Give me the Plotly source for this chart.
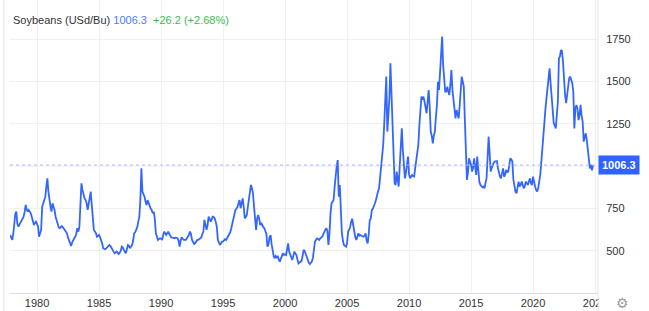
import plotly.graph_objects as go
import pandas as pd

title_text = "Soybeans (USd/Bu)"
last_value = 1006.3
change_text = "+26.2 (+2.68%)"
start_month = "1977-11-01"

prices_1970s = [594, 575,
                565, 600, 690, 720, 732, 660, 643, 655, 663, 683, 690, 702,
                730, 771, 745, 732, 742, 735, 722, 700, 673, 653, 665, 673]

prices_1980s = [
    660, 643, 584, 600, 624, 761, 781, 800, 820, 880, 928, 850,
    780, 760, 732, 781, 761, 740, 702, 680, 653, 640, 634, 640,
    647, 640, 630, 624, 614, 604, 580, 560, 545, 530, 550, 565,
    575, 584, 600, 634, 614, 640, 752, 899, 860, 830, 810, 800,
    781, 742, 781, 800, 850, 770, 702, 624, 614, 605, 584, 590,
    594, 580, 565, 545, 516, 512, 510, 515, 520, 525, 535, 530,
    520, 506, 500, 486, 490, 496, 490, 482, 490, 500, 525, 520,
    506, 496, 486, 510, 535, 530, 516, 525, 535, 560, 604, 610,
    624, 640, 673, 700, 800, 987, 850, 835, 820, 790, 771, 800,
    780, 761, 750, 742, 722, 732, 690, 604, 580, 565, 570, 575]

prices_1990s = [
    572, 565, 590, 614, 605, 594, 604, 614, 600, 584, 580, 578,
    575, 575, 578, 575, 575, 560, 525, 560, 580, 572, 565, 565,
    565, 575, 584, 595, 614, 600, 565, 555, 541, 545, 555, 565,
    565, 570, 575, 580, 600, 614, 683, 640, 624, 650, 702, 690,
    673, 685, 702, 700, 692, 670, 643, 565, 545, 535, 545, 555,
    555, 560, 569, 565, 575, 585, 594, 610, 634, 660, 692, 720,
    742, 750, 760, 781, 800, 752, 790, 810, 760, 692, 700, 712,
    760, 800, 860, 889, 870, 840, 761, 700, 624, 690, 712, 690,
    653, 665, 650, 640, 634, 614, 600, 525, 540, 580, 594, 540,
    486, 470, 457, 470, 462, 467, 450, 437, 455, 470, 486, 476]

prices_2000s = [
    480, 476, 520, 545, 496, 480, 460, 447, 470, 496, 485, 476,
    450, 427, 432, 437, 440, 470, 506, 500, 480, 457, 440, 430,
    423, 430, 437, 460, 525, 555, 565, 574, 570, 565, 574, 578,
    584, 600, 615, 624, 634, 620, 535, 600, 720, 781, 790, 800,
    879, 958, 1000, 1036, 820, 889, 700, 604, 560, 535, 530, 525,
    545, 614, 624, 640, 673, 690, 653, 610, 580, 565, 580, 604,
    590, 594, 590, 584, 584, 590, 604, 560, 545, 600, 683, 690,
    742, 750, 761, 780, 800, 840, 850, 870, 930, 1007, 1060, 1125,
    1250, 1400, 1528, 1204, 1300, 1400, 1607, 1450, 1300, 1086, 900, 889,
    968, 920, 880, 1000, 1086, 1223, 1100, 1000, 928, 960, 1010, 1056]

prices_2010s = [
    950, 928, 940, 948, 940, 938, 990, 1046, 1080, 1125, 1243, 1330,
    1410, 1400, 1410, 1381, 1350, 1312, 1380, 1449, 1350, 1204, 1180, 1135,
    1180, 1204, 1290, 1361, 1498, 1449, 1550, 1675, 1764, 1597, 1500, 1439,
    1440, 1469, 1440, 1420, 1479, 1567, 1450, 1381, 1330, 1282, 1331, 1310,
    1282, 1360, 1439, 1528, 1500, 1469, 1282, 1086, 919, 960, 1046, 1027,
    1007, 968, 990, 1046, 980, 948, 1056, 980, 909, 890, 880, 875,
    880, 870, 900, 928, 1046, 1174, 1080, 968, 990, 1007, 1020, 1027,
    1027, 1030, 990, 958, 940, 928, 960, 987, 938, 950, 978, 965,
    968, 1000, 1046, 1040, 1027, 920, 870, 850, 840, 870, 909, 880,
    890, 909, 890, 870, 880, 909, 900, 889, 910, 928, 900, 889]

prices_2020s = [
    938, 900, 880, 860, 850, 870, 909, 950, 1027, 1090, 1184, 1260,
    1341, 1410, 1460, 1508, 1577, 1489, 1400, 1302, 1253, 1240, 1223, 1300,
    1381, 1636, 1646, 1685, 1680, 1616, 1489, 1420, 1371, 1420, 1498, 1520,
    1528, 1510, 1489, 1439, 1223, 1341, 1361, 1340, 1272, 1300, 1361, 1300,
    1263, 1145, 1180, 1194, 1155, 1086, 1040, 987, 1007, 975, 1006.3]

y_ticks = [500, 750, 1250, 1500, 1750]
y_hidden_grid = 1000
x_ticks = ["1980", "1985", "1990", "1995", "2000", "2005", "2010", "2015", "2020", "2025"]

prices = prices_1970s + prices_1980s + prices_1990s + prices_2000s + prices_2010s + prices_2020s
dates = pd.date_range(start_month, periods=len(prices), freq="MS")

LINE = "#3366ff"
FONT = "Liberation Sans, Arial, sans-serif"
GRID = "#f0f0f0"
BORDER = "#dcdcdc"

fig = go.Figure()
fig.add_trace(go.Scatter(x=dates, y=prices, mode="lines",
                         line=dict(color=LINE, width=1.8), hoverinfo="skip",
                         showlegend=False))

fig.update_layout(
    width=649, height=311,
    margin=dict(l=10, r=51, t=0, b=18),
    paper_bgcolor="white", plot_bgcolor="white",
    font=dict(family=FONT, size=11, color="#333333"),
    xaxis=dict(range=["1977-10-27", "2025-03-28"],
               tickvals=[f"{t}-01-01" for t in x_ticks], ticktext=x_ticks,
               showgrid=True, gridcolor=GRID, gridwidth=1,
               showline=True, linecolor=BORDER, linewidth=1,
               ticks="", zeroline=False,
               tickfont=dict(family=FONT, size=11, color="#333333")),
    yaxis=dict(range=[252, 1980], side="right", tickvals=y_ticks,
               showgrid=True, gridcolor=GRID, gridwidth=1,
               zeroline=False, showline=False,
               ticks="outside", ticklen=5, tickcolor="rgba(0,0,0,0)",
               tickfont=dict(family=FONT, size=11, color="#333333")),
)

# gridline at 1000 (its label is hidden behind the last-value box)
fig.add_shape(type="line", xref="paper", x0=0, x1=1, yref="y", y0=y_hidden_grid, y1=y_hidden_grid,
              line=dict(color=GRID, width=1), layer="below")
# dotted last-value line
fig.add_shape(type="line", xref="paper", x0=0, x1=1, yref="y", y0=last_value, y1=last_value,
              line=dict(color="#a9b8ff", width=1, dash="dot"), layer="above")
# cover the clipped part of the last x tick label
fig.add_shape(type="rect", xref="paper", yref="paper", x0=1.001, x1=1.09, y0=-0.065, y1=-0.003,
              line=dict(width=0), fillcolor="white", layer="above")
# right separator and left border
fig.add_shape(type="line", xref="paper", yref="paper", x0=1, x1=1, y0=-0.065, y1=1,
              line=dict(color="#e6e6e6", width=1), layer="above")
fig.add_shape(type="line", xref="paper", yref="paper", x0=-0.0105, x1=-0.0105, y0=-0.065, y1=1,
              line=dict(color="#e6e6e6", width=1), layer="above")

# last value label
fig.add_annotation(xref="paper", x=1.0, xanchor="left", yref="y", y=last_value, yanchor="middle",
                   text=f"<b>{last_value}</b>", showarrow=False, bgcolor="#2f62ff",
                   font=dict(family=FONT, size=11, color="white"), borderpad=3)

# header
fig.add_annotation(xref="paper", x=0.002, xanchor="left", yref="paper", y=1 - 20 / 293, yanchor="middle",
                   text=(f"{title_text} <span style='color:#4a7cff'>{last_value}</span>&nbsp;&nbsp;"
                         f"<span style='color:#3dba4e'>{change_text}</span>"),
                   showarrow=False, font=dict(family=FONT, size=11, color="#333333"))

# settings gear
fig.add_annotation(xref="paper", x=(622 - 10) / 588, xanchor="center", yref="paper", y=-10 / 293,
                   yanchor="middle", text="⚙", showarrow=False,
                   font=dict(family="DejaVu Sans", size=14, color="#9a9a9a"))

fig.write_html("out.html")
